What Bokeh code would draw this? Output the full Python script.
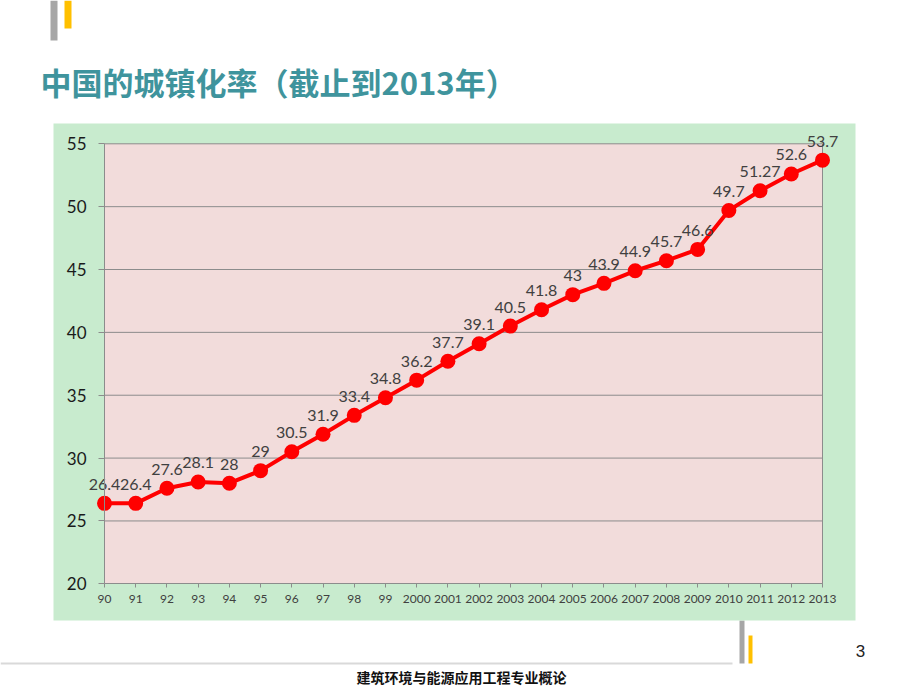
from bokeh.plotting import figure
from bokeh.models import Range1d, LinearAxis, FixedTicker
from bokeh.core.properties import value
from bokeh.embed import file_html
from bokeh.resources import INLINE

# ---------------- data ----------------
years = ["90", "91", "92", "93", "94", "95", "96", "97", "98", "99",
         "2000", "2001", "2002", "2003", "2004", "2005", "2006", "2007",
         "2008", "2009", "2010", "2011", "2012", "2013"]
rates = [26.4, 26.4, 27.6, 28.1, 28, 29, 30.5, 31.9, 33.4, 34.8,
         36.2, 37.7, 39.1, 40.5, 41.8, 43, 43.9, 44.9,
         45.7, 46.6, 49.7, 51.27, 52.6, 53.7]
rate_labels = [f"{v:g}" for v in rates]
y_ticks = [20, 25, 30, 35, 40, 45, 50, 55]
title_text = "中国的城镇化率（截止到2013年）"
footer_text = "建筑环境与能源应用工程专业概论"
page_no = "3"

# ---------------- layout (pixels) ----------------
W, H = 920, 690
L_PX, R_PX = 104.0, 822.0      # first / last category
T_PX, B_PX = 143.3, 583.3      # y = 55 / y = 20
n = len(years)
idx = list(range(n))
ymin, ymax = y_ticks[0], y_ticks[-1]

sx = (R_PX - L_PX) / (n - 1)
cat_start = 0 - L_PX / sx
cat_end = (n - 1) + (W - R_PX) / sx
sy = (B_PX - T_PX) / (ymax - ymin)
val_top = ymax + T_PX / sy
val_bottom = ymin - (H - B_PX) / sy

GREEN = "#C8EBCE"
PINK = "#F2DCDB"
GRID = "#8C8C8C"
RED = "#FF0000"
TEAL = "#3F949D"

p = figure(width=W, height=H, output_backend="svg", toolbar_location=None,
           x_range=Range1d(0, W), y_range=Range1d(H, 0),
           x_axis_type=None, y_axis_type=None, min_border=0,
           outline_line_color=None, background_fill_color="white",
           border_fill_color="white")
p.extra_x_ranges = {"cat": Range1d(cat_start, cat_end)}
p.extra_y_ranges = {"val": Range1d(val_bottom, val_top)}

# slide decorations
p.quad(left=[50], right=[57], top=[0], bottom=[40], fill_color="#A6A6A6", line_color=None)
p.quad(left=[64], right=[71], top=[0], bottom=[28], fill_color="#FFC000", line_color=None)
p.quad(left=[739], right=[744], top=[620], bottom=[663], fill_color="#A6A6A6", line_color=None)
p.quad(left=[748], right=[752], top=[635], bottom=[663], fill_color="#FFC000", line_color=None)
p.segment(x0=[0], x1=[732], y0=[663], y1=[663], line_color="#D9D9D9", line_width=2)

p.text(x=[40], y=[81], text=[title_text], text_font=value("Noto Sans CJK SC"),
       text_font_style="bold", text_font_size="31px", text_color=TEAL,
       text_baseline="middle", text_align="left")
p.text(x=[461], y=[676], text=[footer_text], text_font=value("Noto Sans CJK SC"),
       text_font_style="bold", text_font_size="14px", text_color="#111111",
       text_baseline="middle", text_align="center")
p.text(x=[860], y=[650], text=[page_no], text_font=value("Liberation Sans"),
       text_font_size="17px", text_color="#222222",
       text_baseline="middle", text_align="center")

# chart background
p.quad(left=[53], right=[855], top=[123], bottom=[620], fill_color=GREEN, line_color=None)
p.quad(left=[0], right=[n - 1], bottom=[ymin], top=[ymax], fill_color=PINK, line_color=None,
       x_range_name="cat", y_range_name="val")
p.segment(x0=[0] * (len(y_ticks) - 1), x1=[n - 1] * (len(y_ticks) - 1),
          y0=y_ticks[1:], y1=y_ticks[1:], line_color=GRID, line_width=1,
          x_range_name="cat", y_range_name="val")
p.segment(x0=[n - 1], x1=[n - 1], y0=[ymin], y1=[ymax], line_color=GRID, line_width=1,
          x_range_name="cat", y_range_name="val")

# series
p.line(idx, rates, line_color=RED, line_width=4, x_range_name="cat", y_range_name="val")
p.scatter(idx, rates, size=15, fill_color=RED, line_color=None,
          x_range_name="cat", y_range_name="val")
p.text(x=idx, y=rates, text=rate_labels, x_range_name="cat", y_range_name="val",
       text_align="center", text_baseline="alphabetic", y_offset=-19,
       text_font=value("Lato"), text_font_size="16px", text_color="#404040")

# axes
xaxis = LinearAxis(x_range_name="cat", y_range_name="val", fixed_location=ymin,
                   ticker=FixedTicker(ticks=idx), bounds=(0, n - 1),
                   major_label_overrides={i: y for i, y in enumerate(years)})
xaxis.axis_line_color = GRID
xaxis.major_tick_line_color = GRID
xaxis.major_tick_out = 4
xaxis.major_tick_in = 0
xaxis.minor_tick_line_color = None
xaxis.major_label_standoff = 7
xaxis.major_label_text_font = "Lato"
xaxis.major_label_text_font_size = "12px"
xaxis.major_label_text_color = "#404040"
p.add_layout(xaxis, "below")

yaxis = LinearAxis(x_range_name="cat", y_range_name="val", fixed_location=0,
                   ticker=FixedTicker(ticks=y_ticks), bounds=(ymin, ymax))
yaxis.axis_line_color = GRID
yaxis.major_tick_line_color = GRID
yaxis.major_tick_out = 6
yaxis.major_tick_in = 0
yaxis.minor_tick_line_color = None
yaxis.major_label_standoff = 12
yaxis.major_label_text_font = "Lato"
yaxis.major_label_text_font_size = "17px"
yaxis.major_label_text_color = "#1A1A1A"
p.add_layout(yaxis, "left")

open("out.html", "w").write(file_html(p, INLINE))
